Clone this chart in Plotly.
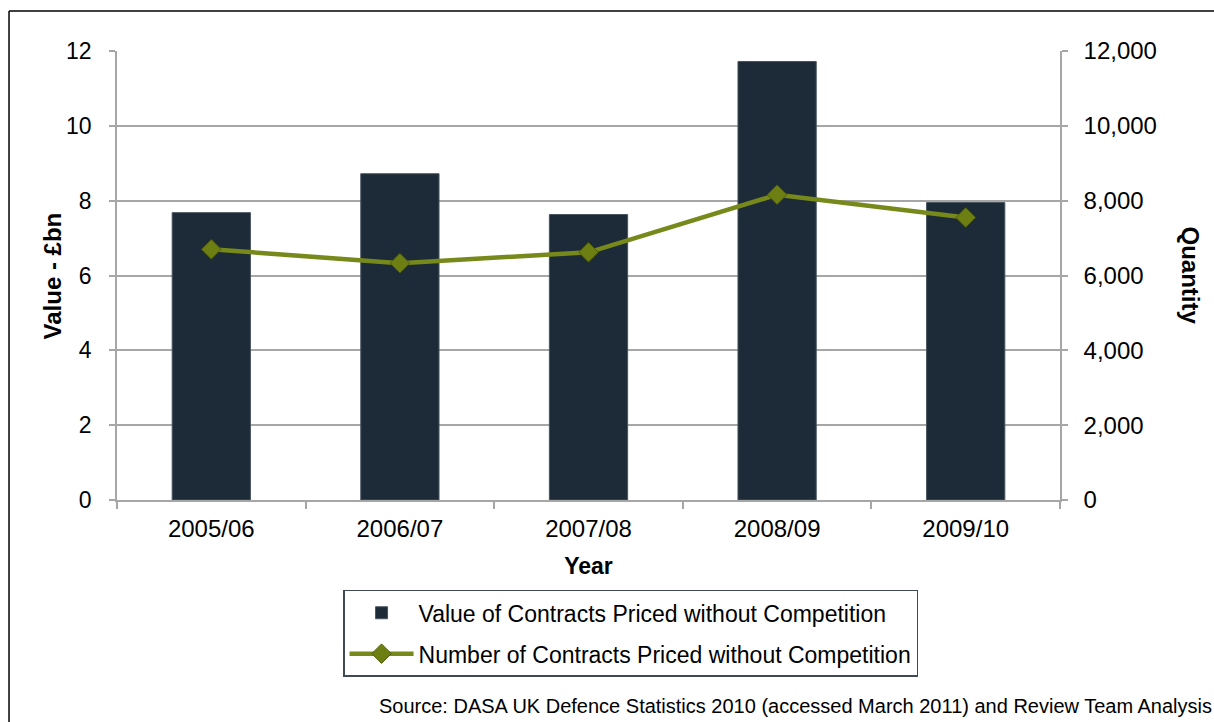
import plotly.graph_objects as go

years = ["2005/06", "2006/07", "2007/08", "2008/09", "2009/10"]
value_bn = [7.68, 8.72, 7.63, 11.72, 7.95]
contracts = [6700, 6330, 6620, 8160, 7550]

FONT = "Arial, Liberation Sans, sans-serif"
GRID = "#a6a6a6"

fig = go.Figure()

fig.add_trace(go.Bar(
    x=years, y=value_bn,
    name="Value of Contracts Priced without Competition",
    legendgroup="value",
    marker=dict(color="#1c2b37", line=dict(color="#4a5560", width=1)),
    width=0.415,
    yaxis="y",
))

fig.add_trace(go.Scatter(
    x=years, y=contracts,
    name="Number of Contracts Priced without Competition",
    legendgroup="count",
    mode="lines+markers",
    line=dict(color="#77891b", width=4.5),
    marker=dict(symbol="diamond", size=15, color="#6d7f12",
                line=dict(color="#505e0c", width=1)),
    yaxis="y2",
))

# outer frame (top and left edges)
fig.add_shape(type="line", xref="paper", yref="paper",
              x0=-0.1145, x1=1.2, y0=1.089, y1=1.089,
              line=dict(color="#000000", width=1.5))
fig.add_shape(type="line", xref="paper", yref="paper",
              x0=-0.1145, x1=-0.1145, y0=1.089, y1=-0.6,
              line=dict(color="#000000", width=1.5))

# axis titles
fig.add_annotation(text="<b>Value - £bn</b>", xref="paper", yref="paper",
                   x=-0.0679, y=0.5, textangle=-90, showarrow=False,
                   xanchor="center", yanchor="middle",
                   font=dict(family=FONT, size=24, color="#000000"))
fig.add_annotation(text="<b>Quantity</b>", xref="paper", yref="paper",
                   x=1.1379, y=0.5, textangle=90, showarrow=False,
                   xanchor="center", yanchor="middle",
                   font=dict(family=FONT, size=24, color="#000000"))

fig.add_annotation(
    text="Source: DASA UK Defence Statistics 2010 (accessed March 2011) and Review Team Analysis",
    xref="paper", yref="paper", x=1.163, y=-0.459,
    xanchor="right", yanchor="middle", showarrow=False,
    font=dict(family=FONT, size=20, color="#000000"),
)

fig.update_layout(
    width=1214, height=722,
    margin=dict(l=117, r=154, t=51, b=222),
    paper_bgcolor="white", plot_bgcolor="white",
    font=dict(family=FONT, size=23, color="#000000"),
    showlegend=True,
    legend=dict(
        x=0.2397, y=-0.2, xanchor="left", yanchor="top",
        bordercolor="#404a55", borderwidth=1.5,
        font=dict(family=FONT, size=23),
        tracegroupgap=8,
        itemwidth=64,
    ),
    bargap=0.585,
    xaxis=dict(
        type="category",
        showline=True, linecolor=GRID, linewidth=1.5,
        ticks="outside", ticklen=7, tickcolor=GRID, tickwidth=1.5,
        tickson="boundaries",
        ticklabelstandoff=6,
        title=dict(text="<b>Year</b>", font=dict(size=23), standoff=17),
        tickfont=dict(size=24),
    ),
    yaxis=dict(
        range=[0, 12], dtick=2,
        showgrid=True, gridcolor=GRID, gridwidth=1.5,
        showline=True, linecolor=GRID, linewidth=1.5,
        ticks="outside", ticklen=6, tickcolor=GRID, tickwidth=1.5,
        ticklabelstandoff=13,
        tickfont=dict(size=23),
        zeroline=False,
    ),
    yaxis2=dict(
        range=[0, 12000], dtick=2000, overlaying="y", side="right",
        showgrid=False,
        showline=True, linecolor=GRID, linewidth=1.5,
        ticks="outside", ticklen=6, tickcolor=GRID, tickwidth=1.5,
        ticklabelstandoff=11,
        tickformat=",d",
        tickfont=dict(size=24),
        zeroline=False,
    ),
)

fig.write_html("out.html")
